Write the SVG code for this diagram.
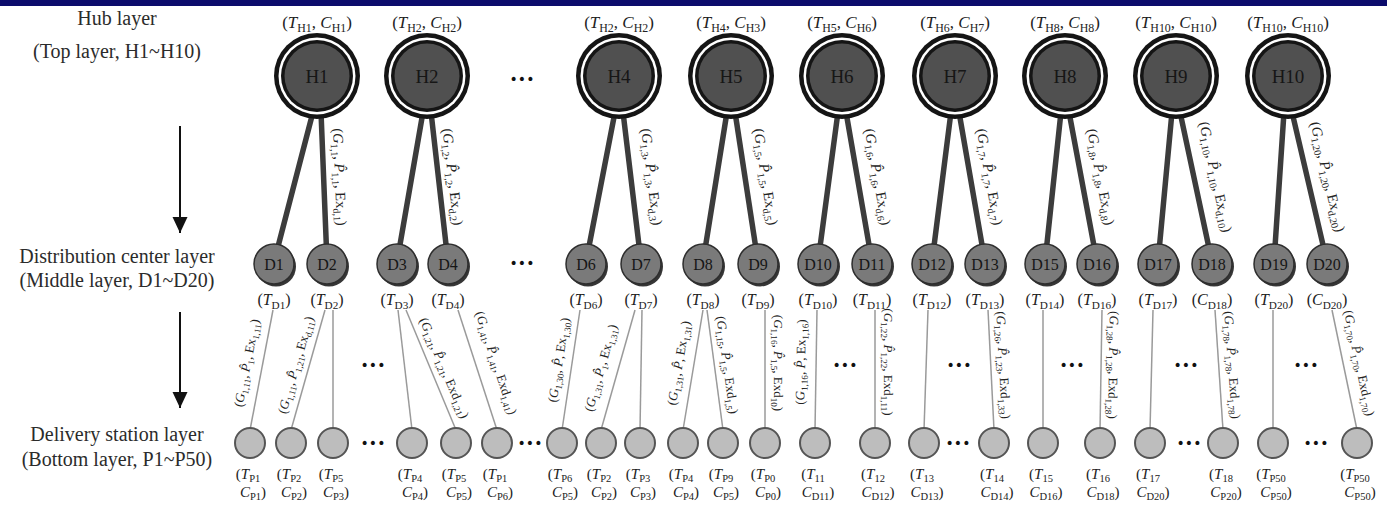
<svg xmlns="http://www.w3.org/2000/svg" width="1387" height="505" viewBox="0 0 1387 505">
<style>
  text { font-family: "Liberation Serif", "Times New Roman", serif; fill: #222; }
  .ttl { font-size: 20px; text-anchor: middle; fill: #2b2b2b; }
  .hl { font-size: 17px; text-anchor: middle; }
  .hn { font-size: 19px; text-anchor: middle; fill: #161616; }
  .dn { font-size: 16px; text-anchor: middle; fill: #161616; }
  .dl { font-size: 16px; text-anchor: middle; }
  .pl { font-size: 15px; text-anchor: middle; }
  .he { font-size: 14.5px; text-anchor: middle; }
  .pe { font-size: 13px; text-anchor: middle; }
  .dots { font-family: "DejaVu Sans", sans-serif; font-size: 14px; text-anchor: middle; fill: #111; }
  .i { font-style: italic; }
  .s { font-size: 70%; }
  .hd { stroke: #3c3c3c; stroke-width: 5.5; stroke-linecap: round; }
  .dp { stroke: #9a9a9a; stroke-width: 1.5; }
  .arr { stroke: #111; stroke-width: 2; marker-end: url(#head); }
  .pc { fill: #bdbdbd; stroke: #555; stroke-width: 2; }
  .dc { fill: #7a7a7a; stroke: #2e2e2e; stroke-width: 1.5; }
  .ds { fill: #363636; }
</style>
<defs>
  <marker id="head" markerUnits="userSpaceOnUse" markerWidth="16" markerHeight="16" refX="16" refY="7.5" orient="auto">
    <path d="M0,0 L16,7.5 L0,15 Z" fill="#111"/>
  </marker>
  <g id="hub">
    <circle r="43" fill="#151515"/>
    <circle r="38.5" fill="#fff"/>
    <circle r="36" fill="#151515"/>
    <circle r="32.5" fill="#505050"/>
  </g>
  <g id="dist">
    <circle cx="2" cy="2.5" r="20" class="ds"/>
    <circle r="20" class="dc"/>
  </g>
</defs>

<rect x="0" y="0" width="1387" height="6" fill="#0c0c6c"/>

<!-- layer titles and direction arrows -->
<g id="titles">
  <text class="ttl" x="117" y="25">Hub layer</text>
  <text class="ttl" x="117" y="58">(Top layer, H1~H10)</text>
  <text class="ttl" x="117" y="263">Distribution center layer</text>
  <text class="ttl" x="117" y="287">(Middle layer, D1~D20)</text>
  <text class="ttl" x="117" y="441">Delivery station layer</text>
  <text class="ttl" x="117" y="466">(Bottom layer, P1~P50)</text>
  <line class="arr" x1="180" y1="126" x2="180" y2="233"/>
  <line class="arr" x1="180" y1="312" x2="180" y2="408"/>
</g>

<!-- connectors -->
<g id="connectors">
  <!-- hub to distribution center -->
  <line class="hd" x1="313" y1="112" x2="274" y2="262"/>
  <line class="hd" x1="321" y1="112" x2="327" y2="262"/>
  <line class="hd" x1="423" y1="112" x2="397" y2="262"/>
  <line class="hd" x1="431" y1="112" x2="448" y2="262"/>
  <line class="hd" x1="615" y1="112" x2="586" y2="262"/>
  <line class="hd" x1="623" y1="112" x2="641" y2="262"/>
  <line class="hd" x1="727" y1="112" x2="703" y2="262"/>
  <line class="hd" x1="735" y1="112" x2="758" y2="262"/>
  <line class="hd" x1="838" y1="112" x2="818" y2="262"/>
  <line class="hd" x1="846" y1="112" x2="872" y2="262"/>
  <line class="hd" x1="951" y1="112" x2="932" y2="262"/>
  <line class="hd" x1="959" y1="112" x2="985" y2="262"/>
  <line class="hd" x1="1061" y1="112" x2="1045" y2="262"/>
  <line class="hd" x1="1069" y1="112" x2="1097" y2="262"/>
  <line class="hd" x1="1172" y1="112" x2="1158" y2="262"/>
  <line class="hd" x1="1180" y1="112" x2="1212" y2="262"/>
  <line class="hd" x1="1284" y1="112" x2="1274" y2="262"/>
  <line class="hd" x1="1292" y1="112" x2="1327" y2="262"/>

  <!-- distribution center to delivery station -->
  <line class="dp" x1="273" y1="310" x2="250" y2="430"/>
  <line class="dp" x1="325" y1="310" x2="291" y2="430"/>
  <line class="dp" x1="333" y1="310" x2="333" y2="430"/>
  <line class="dp" x1="398" y1="310" x2="412" y2="430"/>
  <line class="dp" x1="406" y1="310" x2="456" y2="430"/>
  <line class="dp" x1="458" y1="310" x2="497" y2="430"/>
  <line class="dp" x1="580" y1="310" x2="562" y2="430"/>
  <line class="dp" x1="635" y1="310" x2="601" y2="430"/>
  <line class="dp" x1="642" y1="310" x2="640" y2="430"/>
  <line class="dp" x1="703" y1="310" x2="683" y2="430"/>
  <line class="dp" x1="707" y1="310" x2="723" y2="430"/>
  <line class="dp" x1="765" y1="310" x2="765" y2="430"/>
  <line class="dp" x1="817" y1="310" x2="815" y2="430"/>
  <line class="dp" x1="875" y1="310" x2="875" y2="430"/>
  <line class="dp" x1="928" y1="310" x2="924" y2="430"/>
  <line class="dp" x1="988" y1="310" x2="994" y2="430"/>
  <line class="dp" x1="1043" y1="310" x2="1043" y2="430"/>
  <line class="dp" x1="1102" y1="310" x2="1100" y2="430"/>
  <line class="dp" x1="1153" y1="310" x2="1150" y2="430"/>
  <line class="dp" x1="1215" y1="310" x2="1223" y2="430"/>
  <line class="dp" x1="1273" y1="310" x2="1273" y2="430"/>
  <line class="dp" x1="1332" y1="310" x2="1357" y2="430"/>

  <!-- hub link labels -->
  <text class="he" transform="translate(339,177) rotate(87.7)" y="4">(<tspan class="i">G</tspan><tspan class="s" dy="3">1,1</tspan><tspan dy="-3">, </tspan><tspan class="i">P̂</tspan><tspan class="s" dy="3">1,1</tspan><tspan dy="-3">, Ex</tspan><tspan class="s" dy="3">d,1</tspan><tspan dy="-3">)</tspan></text>
  <text class="he" transform="translate(452,177) rotate(83.5)" y="4">(<tspan class="i">G</tspan><tspan class="s" dy="3">1,2</tspan><tspan dy="-3">, </tspan><tspan class="i">P̂</tspan><tspan class="s" dy="3">1,2</tspan><tspan dy="-3">, Ex</tspan><tspan class="s" dy="3">d,2</tspan><tspan dy="-3">)</tspan></text>
  <text class="he" transform="translate(651,177) rotate(83.2)" y="4">(<tspan class="i">G</tspan><tspan class="s" dy="3">1,3</tspan><tspan dy="-3">, </tspan><tspan class="i">P̂</tspan><tspan class="s" dy="3">1,3</tspan><tspan dy="-3">, Ex</tspan><tspan class="s" dy="3">d,3</tspan><tspan dy="-3">)</tspan></text>
  <text class="he" transform="translate(765,177) rotate(81.3)" y="4">(<tspan class="i">G</tspan><tspan class="s" dy="3">1,5</tspan><tspan dy="-3">, </tspan><tspan class="i">P̂</tspan><tspan class="s" dy="3">1,5</tspan><tspan dy="-3">, Ex</tspan><tspan class="s" dy="3">d,5</tspan><tspan dy="-3">)</tspan></text>
  <text class="he" transform="translate(877,177) rotate(80.2)" y="4">(<tspan class="i">G</tspan><tspan class="s" dy="3">1,6</tspan><tspan dy="-3">, </tspan><tspan class="i">P̂</tspan><tspan class="s" dy="3">1,6</tspan><tspan dy="-3">, Ex</tspan><tspan class="s" dy="3">d,6</tspan><tspan dy="-3">)</tspan></text>
  <text class="he" transform="translate(989,177) rotate(80.2)" y="4">(<tspan class="i">G</tspan><tspan class="s" dy="3">1,7</tspan><tspan dy="-3">, </tspan><tspan class="i">P̂</tspan><tspan class="s" dy="3">1,7</tspan><tspan dy="-3">, Ex</tspan><tspan class="s" dy="3">d,7</tspan><tspan dy="-3">)</tspan></text>
  <text class="he" transform="translate(1100,177) rotate(79.4)" y="4">(<tspan class="i">G</tspan><tspan class="s" dy="3">1,8</tspan><tspan dy="-3">, </tspan><tspan class="i">P̂</tspan><tspan class="s" dy="3">1,8</tspan><tspan dy="-3">, Ex</tspan><tspan class="s" dy="3">d,8</tspan><tspan dy="-3">)</tspan></text>
  <text class="he" transform="translate(1215,177) rotate(78)" y="4">(<tspan class="i">G</tspan><tspan class="s" dy="3">1,10</tspan><tspan dy="-3">, </tspan><tspan class="i">P̂</tspan><tspan class="s" dy="3">1,10</tspan><tspan dy="-3">, Ex</tspan><tspan class="s" dy="3">d,10</tspan><tspan dy="-3">)</tspan></text>
  <text class="he" transform="translate(1327,177) rotate(76.9)" y="4">(<tspan class="i">G</tspan><tspan class="s" dy="3">1,20</tspan><tspan dy="-3">, </tspan><tspan class="i">P̂</tspan><tspan class="s" dy="3">1,20</tspan><tspan dy="-3">, Ex</tspan><tspan class="s" dy="3">d,20</tspan><tspan dy="-3">)</tspan></text>

  <!-- station link labels -->
  <text class="pe" transform="translate(247,363) rotate(-79)" y="4">(<tspan class="i">G</tspan><tspan class="s" dy="3">1,11</tspan><tspan dy="-3">, </tspan><tspan class="i">P̂</tspan><tspan class="s" dy="3">1</tspan><tspan dy="-3">, Ex</tspan><tspan class="s" dy="3">1,11</tspan><tspan dy="-3">)</tspan></text>
  <text class="pe" transform="translate(296,365) rotate(-74)" y="4">(<tspan class="i">G</tspan><tspan class="s" dy="3">1,11</tspan><tspan dy="-3">, </tspan><tspan class="i">P̂</tspan><tspan class="s" dy="3">1,21</tspan><tspan dy="-3">, Ex</tspan><tspan class="s" dy="3">d,11</tspan><tspan dy="-3">)</tspan></text>
  <text class="pe" transform="translate(444,368) rotate(67)" y="4">(<tspan class="i">G</tspan><tspan class="s" dy="3">1,21</tspan><tspan dy="-3">, </tspan><tspan class="i">P̂</tspan><tspan class="s" dy="3">1,21</tspan><tspan dy="-3">, Exd</tspan><tspan class="s" dy="3">1,21</tspan><tspan dy="-3">)</tspan></text>
  <text class="pe" transform="translate(496,363) rotate(71.7)" y="4">(<tspan class="i">G</tspan><tspan class="s" dy="3">1,41</tspan><tspan dy="-3">, </tspan><tspan class="i">P̂</tspan><tspan class="s" dy="3">1,41</tspan><tspan dy="-3">, Exd</tspan><tspan class="s" dy="3">1,41</tspan><tspan dy="-3">)</tspan></text>
  <text class="pe" transform="translate(559,360) rotate(-81.3)" y="4">(<tspan class="i">G</tspan><tspan class="s" dy="3">1,30</tspan><tspan dy="-3">, </tspan><tspan class="i">P̂</tspan><tspan dy="0">, Ex</tspan><tspan class="s" dy="3">1,30</tspan><tspan dy="-3">)</tspan></text>
  <text class="pe" transform="translate(601,368) rotate(-74)" y="4">(<tspan class="i">G</tspan><tspan class="s" dy="3">1,31</tspan><tspan dy="-3">, </tspan><tspan class="i">P̂</tspan><tspan class="s" dy="3">1</tspan><tspan dy="-3">, Ex</tspan><tspan class="s" dy="3">1,31</tspan><tspan dy="-3">)</tspan></text>
  <text class="pe" transform="translate(679,363) rotate(-80.4)" y="4">(<tspan class="i">G</tspan><tspan class="s" dy="3">1,31</tspan><tspan dy="-3">, </tspan><tspan class="i">P̂</tspan><tspan dy="0">, Ex</tspan><tspan class="s" dy="3">1,31</tspan><tspan dy="-3">)</tspan></text>
  <text class="pe" transform="translate(727,365) rotate(82.3)" y="4">(<tspan class="i">G</tspan><tspan class="s" dy="3">1,15</tspan><tspan dy="-3">, </tspan><tspan class="i">P̂</tspan><tspan class="s" dy="3">1,5</tspan><tspan dy="-3">, Exd</tspan><tspan class="s" dy="3">1,5</tspan><tspan dy="-3">)</tspan></text>
  <text class="pe" transform="translate(778,363) rotate(90)" y="4">(<tspan class="i">G</tspan><tspan class="s" dy="3">1,16</tspan><tspan dy="-3">, </tspan><tspan class="i">P̂</tspan><tspan class="s" dy="3">1,5</tspan><tspan dy="-3">, Exd</tspan><tspan class="s" dy="3">10</tspan><tspan dy="-3">)</tspan></text>
  <text class="pe" transform="translate(801,362) rotate(-89)" y="4">(<tspan class="i">G</tspan><tspan class="s" dy="3">1,16</tspan><tspan dy="-3">, </tspan><tspan class="i">P̂</tspan><tspan dy="0">, Ex</tspan><tspan class="s" dy="3">1,16</tspan><tspan dy="-3">)</tspan></text>
  <text class="pe" transform="translate(888,362) rotate(90)" y="4">(<tspan class="i">G</tspan><tspan class="s" dy="3">1,22</tspan><tspan dy="-3">, </tspan><tspan class="i">P̂</tspan><tspan class="s" dy="3">1,22</tspan><tspan dy="-3">, Exd</tspan><tspan class="s" dy="3">1,11</tspan><tspan dy="-3">)</tspan></text>
  <text class="pe" transform="translate(1003,365) rotate(87)" y="4">(<tspan class="i">G</tspan><tspan class="s" dy="3">1,26</tspan><tspan dy="-3">, </tspan><tspan class="i">P̂</tspan><tspan class="s" dy="3">1,23</tspan><tspan dy="-3">, Exd</tspan><tspan class="s" dy="3">1,33</tspan><tspan dy="-3">)</tspan></text>
  <text class="pe" transform="translate(1113,365) rotate(91)" y="4">(<tspan class="i">G</tspan><tspan class="s" dy="3">1,28</tspan><tspan dy="-3">, </tspan><tspan class="i">P̂</tspan><tspan class="s" dy="3">1,28</tspan><tspan dy="-3">, Exd</tspan><tspan class="s" dy="3">1,28</tspan><tspan dy="-3">)</tspan></text>
  <text class="pe" transform="translate(1232,365) rotate(86)" y="4">(<tspan class="i">G</tspan><tspan class="s" dy="3">1,78</tspan><tspan dy="-3">, </tspan><tspan class="i">P̂</tspan><tspan class="s" dy="3">1,78</tspan><tspan dy="-3">, Exd</tspan><tspan class="s" dy="3">1,78</tspan><tspan dy="-3">)</tspan></text>
  <text class="pe" transform="translate(1359,363) rotate(78)" y="4">(<tspan class="i">G</tspan><tspan class="s" dy="3">1,70</tspan><tspan dy="-3">, </tspan><tspan class="i">P̂</tspan><tspan class="s" dy="3">1,70</tspan><tspan dy="-3">, Exd</tspan><tspan class="s" dy="3">1,70</tspan><tspan dy="-3">)</tspan></text>
</g>

<!-- ellipsis markers -->
<g id="ellipses">
  <text class="dots" x="522" y="84">•••</text>
  <text class="dots" x="522" y="268">•••</text>
  <text class="dots" x="373" y="370">•••</text>
  <text class="dots" x="845" y="370">•••</text>
  <text class="dots" x="959" y="370">•••</text>
  <text class="dots" x="1072" y="370">•••</text>
  <text class="dots" x="1186" y="370">•••</text>
  <text class="dots" x="1306" y="370">•••</text>
  <text class="dots" x="373" y="448">•••</text>
  <text class="dots" x="530" y="448">•••</text>
  <text class="dots" x="958" y="448">•••</text>
  <text class="dots" x="1189" y="448">•••</text>
  <text class="dots" x="1316" y="448">•••</text>
</g>

<!-- hub layer -->
<g id="H1"><use href="#hub" x="317" y="76"/><text class="hn" x="317" y="83">H1</text><text class="hl" x="317" y="28">(<tspan class="i">T</tspan><tspan class="s" dy="4">H1</tspan><tspan dy="-4">, </tspan><tspan class="i">C</tspan><tspan class="s" dy="4">H1</tspan><tspan dy="-4">)</tspan></text></g>
<g id="H2"><use href="#hub" x="427" y="76"/><text class="hn" x="427" y="83">H2</text><text class="hl" x="427" y="28">(<tspan class="i">T</tspan><tspan class="s" dy="4">H2</tspan><tspan dy="-4">, </tspan><tspan class="i">C</tspan><tspan class="s" dy="4">H2</tspan><tspan dy="-4">)</tspan></text></g>
<g id="H4"><use href="#hub" x="619" y="76"/><text class="hn" x="619" y="83">H4</text><text class="hl" x="619" y="28">(<tspan class="i">T</tspan><tspan class="s" dy="4">H2</tspan><tspan dy="-4">, </tspan><tspan class="i">C</tspan><tspan class="s" dy="4">H2</tspan><tspan dy="-4">)</tspan></text></g>
<g id="H5"><use href="#hub" x="731" y="76"/><text class="hn" x="731" y="83">H5</text><text class="hl" x="731" y="28">(<tspan class="i">T</tspan><tspan class="s" dy="4">H4</tspan><tspan dy="-4">, </tspan><tspan class="i">C</tspan><tspan class="s" dy="4">H3</tspan><tspan dy="-4">)</tspan></text></g>
<g id="H6"><use href="#hub" x="842" y="76"/><text class="hn" x="842" y="83">H6</text><text class="hl" x="842" y="28">(<tspan class="i">T</tspan><tspan class="s" dy="4">H5</tspan><tspan dy="-4">, </tspan><tspan class="i">C</tspan><tspan class="s" dy="4">H6</tspan><tspan dy="-4">)</tspan></text></g>
<g id="H7"><use href="#hub" x="955" y="76"/><text class="hn" x="955" y="83">H7</text><text class="hl" x="955" y="28">(<tspan class="i">T</tspan><tspan class="s" dy="4">H6</tspan><tspan dy="-4">, </tspan><tspan class="i">C</tspan><tspan class="s" dy="4">H7</tspan><tspan dy="-4">)</tspan></text></g>
<g id="H8"><use href="#hub" x="1065" y="76"/><text class="hn" x="1065" y="83">H8</text><text class="hl" x="1065" y="28">(<tspan class="i">T</tspan><tspan class="s" dy="4">H8</tspan><tspan dy="-4">, </tspan><tspan class="i">C</tspan><tspan class="s" dy="4">H8</tspan><tspan dy="-4">)</tspan></text></g>
<g id="H9"><use href="#hub" x="1176" y="76"/><text class="hn" x="1176" y="83">H9</text><text class="hl" x="1176" y="28">(<tspan class="i">T</tspan><tspan class="s" dy="4">H10</tspan><tspan dy="-4">, </tspan><tspan class="i">C</tspan><tspan class="s" dy="4">H10</tspan><tspan dy="-4">)</tspan></text></g>
<g id="H10"><use href="#hub" x="1288" y="76"/><text class="hn" x="1288" y="83">H10</text><text class="hl" x="1288" y="28">(<tspan class="i">T</tspan><tspan class="s" dy="4">H10</tspan><tspan dy="-4">, </tspan><tspan class="i">C</tspan><tspan class="s" dy="4">H10</tspan><tspan dy="-4">)</tspan></text></g>

<!-- distribution center layer -->
<g id="D1"><use href="#dist" x="274" y="264"/><text class="dn" x="274" y="270">D1</text><text class="dl" x="274" y="305">(<tspan class="i">T</tspan><tspan class="s" dy="4">D1</tspan><tspan dy="-4">)</tspan></text></g>
<g id="D2"><use href="#dist" x="327" y="264"/><text class="dn" x="327" y="270">D2</text><text class="dl" x="327" y="305">(<tspan class="i">T</tspan><tspan class="s" dy="4">D2</tspan><tspan dy="-4">)</tspan></text></g>
<g id="D3"><use href="#dist" x="397" y="264"/><text class="dn" x="397" y="270">D3</text><text class="dl" x="397" y="305">(<tspan class="i">T</tspan><tspan class="s" dy="4">D3</tspan><tspan dy="-4">)</tspan></text></g>
<g id="D4"><use href="#dist" x="448" y="264"/><text class="dn" x="448" y="270">D4</text><text class="dl" x="448" y="305">(<tspan class="i">T</tspan><tspan class="s" dy="4">D4</tspan><tspan dy="-4">)</tspan></text></g>
<g id="D6"><use href="#dist" x="586" y="264"/><text class="dn" x="586" y="270">D6</text><text class="dl" x="586" y="305">(<tspan class="i">T</tspan><tspan class="s" dy="4">D6</tspan><tspan dy="-4">)</tspan></text></g>
<g id="D7"><use href="#dist" x="641" y="264"/><text class="dn" x="641" y="270">D7</text><text class="dl" x="641" y="305">(<tspan class="i">T</tspan><tspan class="s" dy="4">D7</tspan><tspan dy="-4">)</tspan></text></g>
<g id="D8"><use href="#dist" x="703" y="264"/><text class="dn" x="703" y="270">D8</text><text class="dl" x="703" y="305">(<tspan class="i">T</tspan><tspan class="s" dy="4">D8</tspan><tspan dy="-4">)</tspan></text></g>
<g id="D9"><use href="#dist" x="758" y="264"/><text class="dn" x="758" y="270">D9</text><text class="dl" x="758" y="305">(<tspan class="i">T</tspan><tspan class="s" dy="4">D9</tspan><tspan dy="-4">)</tspan></text></g>
<g id="D10"><use href="#dist" x="818" y="264"/><text class="dn" x="818" y="270">D10</text><text class="dl" x="818" y="305">(<tspan class="i">T</tspan><tspan class="s" dy="4">D10</tspan><tspan dy="-4">)</tspan></text></g>
<g id="D11"><use href="#dist" x="872" y="264"/><text class="dn" x="872" y="270">D11</text><text class="dl" x="872" y="305">(<tspan class="i">T</tspan><tspan class="s" dy="4">D11</tspan><tspan dy="-4">)</tspan></text></g>
<g id="D12"><use href="#dist" x="932" y="264"/><text class="dn" x="932" y="270">D12</text><text class="dl" x="932" y="305">(<tspan class="i">T</tspan><tspan class="s" dy="4">D12</tspan><tspan dy="-4">)</tspan></text></g>
<g id="D13"><use href="#dist" x="985" y="264"/><text class="dn" x="985" y="270">D13</text><text class="dl" x="985" y="305">(<tspan class="i">T</tspan><tspan class="s" dy="4">D13</tspan><tspan dy="-4">)</tspan></text></g>
<g id="D15"><use href="#dist" x="1045" y="264"/><text class="dn" x="1045" y="270">D15</text><text class="dl" x="1045" y="305">(<tspan class="i">T</tspan><tspan class="s" dy="4">D14</tspan><tspan dy="-4">)</tspan></text></g>
<g id="D16"><use href="#dist" x="1097" y="264"/><text class="dn" x="1097" y="270">D16</text><text class="dl" x="1097" y="305">(<tspan class="i">T</tspan><tspan class="s" dy="4">D16</tspan><tspan dy="-4">)</tspan></text></g>
<g id="D17"><use href="#dist" x="1158" y="264"/><text class="dn" x="1158" y="270">D17</text><text class="dl" x="1158" y="305">(<tspan class="i">T</tspan><tspan class="s" dy="4">D17</tspan><tspan dy="-4">)</tspan></text></g>
<g id="D18"><use href="#dist" x="1212" y="264"/><text class="dn" x="1212" y="270">D18</text><text class="dl" x="1212" y="305">(<tspan class="i">C</tspan><tspan class="s" dy="4">D18</tspan><tspan dy="-4">)</tspan></text></g>
<g id="D19"><use href="#dist" x="1274" y="264"/><text class="dn" x="1274" y="270">D19</text><text class="dl" x="1274" y="305">(<tspan class="i">T</tspan><tspan class="s" dy="4">D20</tspan><tspan dy="-4">)</tspan></text></g>
<g id="D20"><use href="#dist" x="1327" y="264"/><text class="dn" x="1327" y="270">D20</text><text class="dl" x="1327" y="305">(<tspan class="i">C</tspan><tspan class="s" dy="4">D20</tspan><tspan dy="-4">)</tspan></text></g>

<!-- delivery station layer -->
<g id="P1"><circle class="pc" cx="250" cy="443" r="15"/><text class="pl" x="248" y="479">(<tspan class="i">T</tspan><tspan class="s" dy="3">P1</tspan></text><text class="pl" x="253" y="497"><tspan class="i">C</tspan><tspan class="s" dy="3">P1</tspan><tspan dy="-3">)</tspan></text></g>
<g id="P2"><circle class="pc" cx="291" cy="443" r="15"/><text class="pl" x="289" y="479">(<tspan class="i">T</tspan><tspan class="s" dy="3">P2</tspan></text><text class="pl" x="294" y="497"><tspan class="i">C</tspan><tspan class="s" dy="3">P2</tspan><tspan dy="-3">)</tspan></text></g>
<g id="P3"><circle class="pc" cx="333" cy="443" r="15"/><text class="pl" x="331" y="479">(<tspan class="i">T</tspan><tspan class="s" dy="3">P5</tspan></text><text class="pl" x="336" y="497"><tspan class="i">C</tspan><tspan class="s" dy="3">P3</tspan><tspan dy="-3">)</tspan></text></g>
<g id="P4"><circle class="pc" cx="412" cy="443" r="15"/><text class="pl" x="410" y="479">(<tspan class="i">T</tspan><tspan class="s" dy="3">P4</tspan></text><text class="pl" x="415" y="497"><tspan class="i">C</tspan><tspan class="s" dy="3">P4</tspan><tspan dy="-3">)</tspan></text></g>
<g id="P5"><circle class="pc" cx="456" cy="443" r="15"/><text class="pl" x="454" y="479">(<tspan class="i">T</tspan><tspan class="s" dy="3">P5</tspan></text><text class="pl" x="459" y="497"><tspan class="i">C</tspan><tspan class="s" dy="3">P5</tspan><tspan dy="-3">)</tspan></text></g>
<g id="P6"><circle class="pc" cx="497" cy="443" r="15"/><text class="pl" x="495" y="479">(<tspan class="i">T</tspan><tspan class="s" dy="3">P1</tspan></text><text class="pl" x="500" y="497"><tspan class="i">C</tspan><tspan class="s" dy="3">P6</tspan><tspan dy="-3">)</tspan></text></g>
<g id="P7"><circle class="pc" cx="562" cy="443" r="15"/><text class="pl" x="560" y="479">(<tspan class="i">T</tspan><tspan class="s" dy="3">P6</tspan></text><text class="pl" x="565" y="497"><tspan class="i">C</tspan><tspan class="s" dy="3">P5</tspan><tspan dy="-3">)</tspan></text></g>
<g id="P8"><circle class="pc" cx="601" cy="443" r="15"/><text class="pl" x="599" y="479">(<tspan class="i">T</tspan><tspan class="s" dy="3">P2</tspan></text><text class="pl" x="604" y="497"><tspan class="i">C</tspan><tspan class="s" dy="3">P2</tspan><tspan dy="-3">)</tspan></text></g>
<g id="P9"><circle class="pc" cx="640" cy="443" r="15"/><text class="pl" x="638" y="479">(<tspan class="i">T</tspan><tspan class="s" dy="3">P3</tspan></text><text class="pl" x="643" y="497"><tspan class="i">C</tspan><tspan class="s" dy="3">P3</tspan><tspan dy="-3">)</tspan></text></g>
<g id="P10"><circle class="pc" cx="683" cy="443" r="15"/><text class="pl" x="681" y="479">(<tspan class="i">T</tspan><tspan class="s" dy="3">P4</tspan></text><text class="pl" x="686" y="497"><tspan class="i">C</tspan><tspan class="s" dy="3">P4</tspan><tspan dy="-3">)</tspan></text></g>
<g id="P11"><circle class="pc" cx="723" cy="443" r="15"/><text class="pl" x="721" y="479">(<tspan class="i">T</tspan><tspan class="s" dy="3">P9</tspan></text><text class="pl" x="726" y="497"><tspan class="i">C</tspan><tspan class="s" dy="3">P5</tspan><tspan dy="-3">)</tspan></text></g>
<g id="P12"><circle class="pc" cx="765" cy="443" r="15"/><text class="pl" x="763" y="479">(<tspan class="i">T</tspan><tspan class="s" dy="3">P0</tspan></text><text class="pl" x="768" y="497"><tspan class="i">C</tspan><tspan class="s" dy="3">P0</tspan><tspan dy="-3">)</tspan></text></g>
<g id="P13"><circle class="pc" cx="815" cy="443" r="15"/><text class="pl" x="813" y="479">(<tspan class="i">T</tspan><tspan class="s" dy="3">11</tspan></text><text class="pl" x="818" y="497"><tspan class="i">C</tspan><tspan class="s" dy="3">D11</tspan><tspan dy="-3">)</tspan></text></g>
<g id="P14"><circle class="pc" cx="875" cy="443" r="15"/><text class="pl" x="873" y="479">(<tspan class="i">T</tspan><tspan class="s" dy="3">12</tspan></text><text class="pl" x="878" y="497"><tspan class="i">C</tspan><tspan class="s" dy="3">D12</tspan><tspan dy="-3">)</tspan></text></g>
<g id="P15"><circle class="pc" cx="924" cy="443" r="15"/><text class="pl" x="922" y="479">(<tspan class="i">T</tspan><tspan class="s" dy="3">13</tspan></text><text class="pl" x="927" y="497"><tspan class="i">C</tspan><tspan class="s" dy="3">D13</tspan><tspan dy="-3">)</tspan></text></g>
<g id="P16"><circle class="pc" cx="994" cy="443" r="15"/><text class="pl" x="992" y="479">(<tspan class="i">T</tspan><tspan class="s" dy="3">14</tspan></text><text class="pl" x="997" y="497"><tspan class="i">C</tspan><tspan class="s" dy="3">D14</tspan><tspan dy="-3">)</tspan></text></g>
<g id="P17"><circle class="pc" cx="1043" cy="443" r="15"/><text class="pl" x="1041" y="479">(<tspan class="i">T</tspan><tspan class="s" dy="3">15</tspan></text><text class="pl" x="1046" y="497"><tspan class="i">C</tspan><tspan class="s" dy="3">D16</tspan><tspan dy="-3">)</tspan></text></g>
<g id="P18"><circle class="pc" cx="1100" cy="443" r="15"/><text class="pl" x="1098" y="479">(<tspan class="i">T</tspan><tspan class="s" dy="3">16</tspan></text><text class="pl" x="1103" y="497"><tspan class="i">C</tspan><tspan class="s" dy="3">D18</tspan><tspan dy="-3">)</tspan></text></g>
<g id="P19"><circle class="pc" cx="1150" cy="443" r="15"/><text class="pl" x="1148" y="479">(<tspan class="i">T</tspan><tspan class="s" dy="3">17</tspan></text><text class="pl" x="1153" y="497"><tspan class="i">C</tspan><tspan class="s" dy="3">D20</tspan><tspan dy="-3">)</tspan></text></g>
<g id="P20"><circle class="pc" cx="1223" cy="443" r="15"/><text class="pl" x="1221" y="479">(<tspan class="i">T</tspan><tspan class="s" dy="3">18</tspan></text><text class="pl" x="1226" y="497"><tspan class="i">C</tspan><tspan class="s" dy="3">P20</tspan><tspan dy="-3">)</tspan></text></g>
<g id="P21"><circle class="pc" cx="1273" cy="443" r="15"/><text class="pl" x="1271" y="479">(<tspan class="i">T</tspan><tspan class="s" dy="3">P50</tspan></text><text class="pl" x="1276" y="497"><tspan class="i">C</tspan><tspan class="s" dy="3">P50</tspan><tspan dy="-3">)</tspan></text></g>
<g id="P22"><circle class="pc" cx="1357" cy="443" r="15"/><text class="pl" x="1355" y="479">(<tspan class="i">T</tspan><tspan class="s" dy="3">P50</tspan></text><text class="pl" x="1360" y="497"><tspan class="i">C</tspan><tspan class="s" dy="3">P50</tspan><tspan dy="-3">)</tspan></text></g>
</svg>
